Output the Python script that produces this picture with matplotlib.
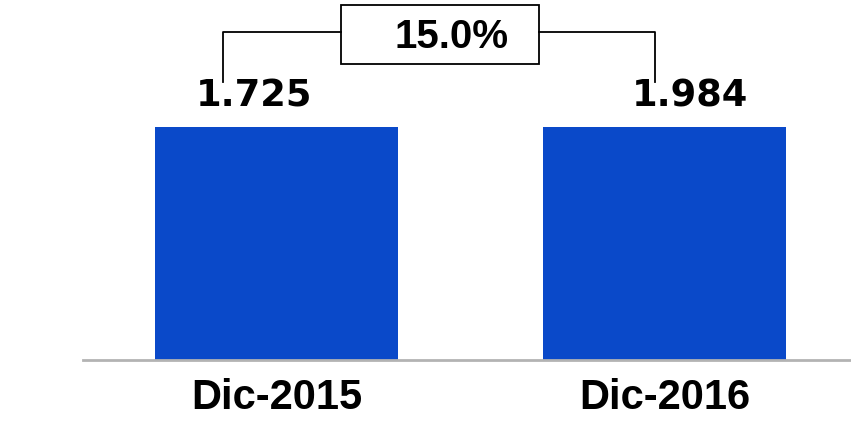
import matplotlib
matplotlib.use("Agg")
from matplotlib import pyplot as plt
from matplotlib.patches import Rectangle

# data
categories = ["Dic-2015", "Dic-2016"]
values = [1.725, 1.984]
# in the original both bars are drawn at the same height
bar_heights = [1.0, 1.0]

growth = (values[1] / values[0] - 1) * 100

bar_color = "#0a49c9"

fig = plt.figure(figsize=(8.51, 4.21), dpi=100)
ax = fig.add_axes([83 / 851, 1 - 360 / 421, 1 - 83 / 851, 360 / 421])

x = list(range(len(categories)))
ax.bar(x, bar_heights, width=0.626, color=bar_color, zorder=2)

ax.set_xlim(-0.499, 1.481)
ax.set_ylim(0, 360 / 233)

for s in ["top", "right", "left"]:
    ax.spines[s].set_visible(False)
ax.spines["bottom"].set_color("#b3b3b3")
ax.spines["bottom"].set_linewidth(2)
ax.set_yticks([])
ax.set_xticks(x)
ax.set_xticklabels(categories, fontsize=30, fontweight="bold", family="Liberation Sans")
ax.tick_params(axis="x", length=0, pad=13)

# value labels (shifted off the bar centres, like the original)
label_x = [-0.059, 1.067]
for lx, v in zip(label_x, values):
    ax.text(lx, 1.086, f"{v:.3f}", ha="center", va="baseline", fontsize=26.5,
            fontweight="bold", family="DejaVu Sans")

# bracket with growth box
y_br = 1.4064
y_low = 1.193
xl, xr = -0.138, 0.9755
bx0, bx1 = 0.166, 0.6766
by0, by1 = 1.270, 1.522
ax.plot([xl, xl, bx0], [y_low, y_br, y_br], color="black", lw=1.3, clip_on=False)
ax.plot([bx1, xr, xr], [y_br, y_br, y_low], color="black", lw=1.3, clip_on=False)
ax.add_patch(Rectangle((bx0, by0), bx1 - bx0, by1 - by0, fill=False,
                       edgecolor="black", lw=1.3, clip_on=False))
ax.text(0.451, 1.3876, f"{growth:.1f}%", ha="center", va="center", fontsize=29,
        fontweight="bold", family="Liberation Sans")

fig.savefig("out.png", dpi=100)
